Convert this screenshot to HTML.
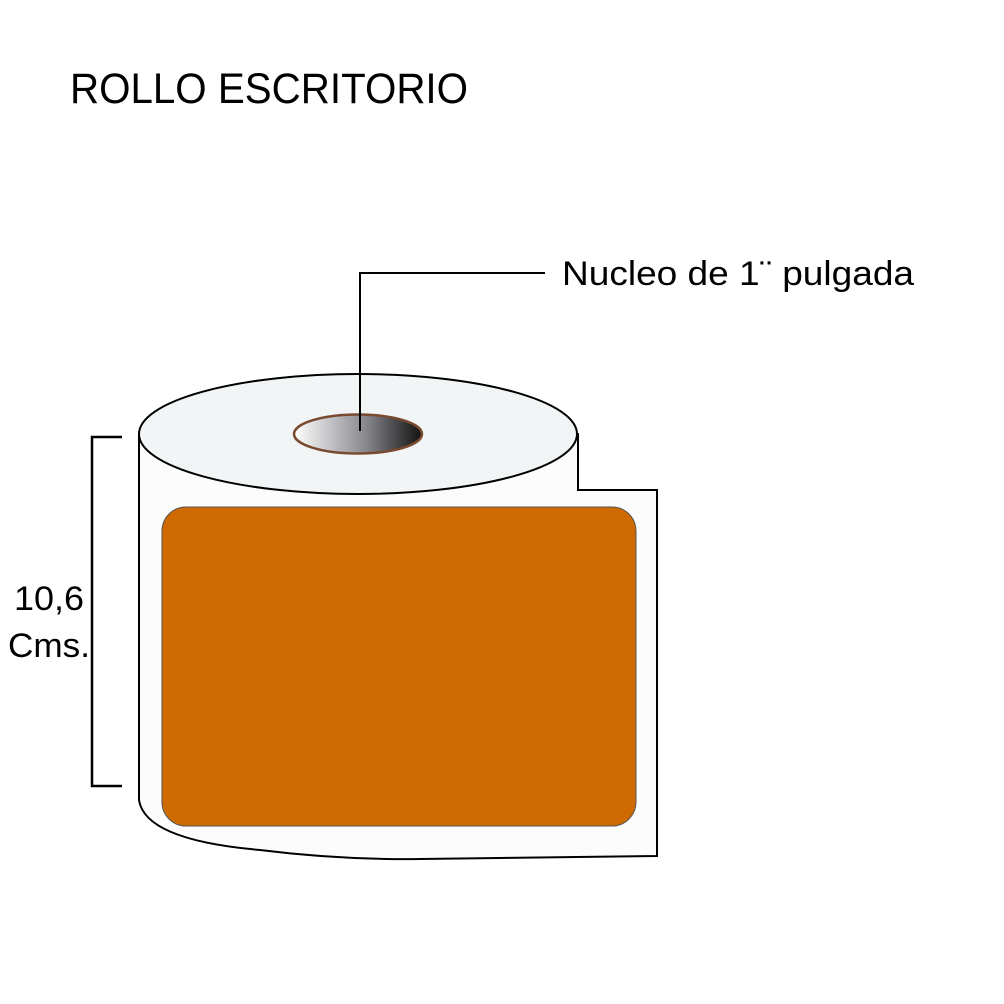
<!DOCTYPE html>
<html><head><style>body{margin:0;background:#fff}svg{display:block}</style></head><body>
<svg width="1004" height="1004" viewBox="0 0 1004 1004" xmlns="http://www.w3.org/2000/svg">
<defs>
<linearGradient id="g" x1="0" x2="1" y1="0" y2="0">
<stop offset="0" stop-color="#fff"/><stop offset="0.55" stop-color="#8a8a90"/><stop offset="1" stop-color="#111"/>
</linearGradient>
</defs>
<text x="70" y="103" font-family="Liberation Sans, sans-serif" font-size="43" fill="#000" textLength="398" lengthAdjust="spacingAndGlyphs">ROLLO ESCRITORIO</text>
<path d="M139 434 L139 800 Q145 840 260 850 Q340 860 420 859 L657 856 L657 490 L578 490 L578 434 Z" fill="#fcfcfc" stroke="#000" stroke-width="2"/>
<ellipse cx="358" cy="434" rx="219" ry="60" fill="#f2f5f6" stroke="#000" stroke-width="2"/>
<ellipse cx="358" cy="434" rx="64" ry="19.5" fill="url(#g)" stroke="#7a4a30" stroke-width="2.5"/>
<rect x="162" y="507" width="474" height="319" rx="24" fill="#cf6a00" stroke="#555" stroke-width="1"/>
<path d="M360 431 L360 273 L545 273" fill="none" stroke="#000" stroke-width="2"/>
<path d="M122 437 L92 437 L92 786 L122 786" fill="none" stroke="#000" stroke-width="2.5"/>
<text x="562" y="285" font-family="Liberation Sans, sans-serif" font-size="34" fill="#000" textLength="352" lengthAdjust="spacingAndGlyphs">Nucleo de 1¨ pulgada</text>
<text x="14" y="610" font-family="Liberation Sans, sans-serif" font-size="34" fill="#000" textLength="70" lengthAdjust="spacingAndGlyphs">10,6</text>
<text x="8" y="657" font-family="Liberation Sans, sans-serif" font-size="34" fill="#000" textLength="82" lengthAdjust="spacingAndGlyphs">Cms.</text>
</svg>
</body></html>
